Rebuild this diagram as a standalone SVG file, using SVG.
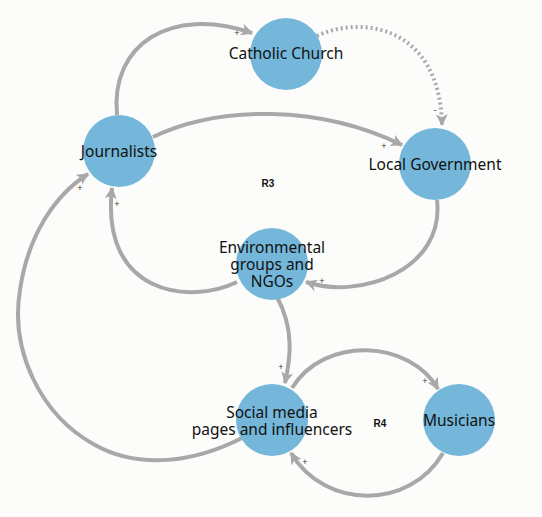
<svg xmlns="http://www.w3.org/2000/svg" width="542" height="517" viewBox="0 0 542 517">
<defs>
<style>
.node{fill:#74b7da}
.lbl{font-family:"Noto Sans","Liberation Sans",sans-serif;font-size:15.5px;fill:#111;text-anchor:middle}
.edge{fill:none;stroke:#a8a8a8;stroke-width:4;marker-end:url(#ah)}
.dot{stroke-dasharray:2 3}
.pol{font-family:"Liberation Sans",sans-serif;font-size:9px;fill:#333;text-anchor:middle}
.loop{font-family:"Liberation Sans",sans-serif;font-size:10px;font-weight:bold;fill:#111;text-anchor:middle}
</style>
<marker id="ah" markerUnits="userSpaceOnUse" markerWidth="12" markerHeight="12" viewBox="0 0 10 10" refX="9" refY="5" orient="auto">
<path d="M0,0 L10,5 L0,10 L2.5,5 z" fill="#a8a8a8"/>
</marker>
</defs>
<rect width="542" height="517" fill="#fcfcfb"/>
<g id="connectors">
<path class="edge" d="M117,115 C110,45 170,5 252,33"/>
<path class="edge dot" d="M317,36 C360,15 440,25 442,125"/>
<path class="edge" d="M153,137 C220,105 320,105 402,145"/>
<path class="edge" d="M437,200 C445,270 360,300 306,282"/>
<path class="edge" d="M237,282 C190,305 100,295 112,188"/>
<path class="edge" d="M277,297 C295,330 290,360 285,383"/>
<path class="edge" d="M292,388 C325,335 410,340 438,389"/>
<path class="edge" d="M443,453 C410,510 325,510 291,453"/>
<path class="edge" d="M242,438 C195,462 140,470 95,445 C40,415 10,350 20,290 C28,235 55,195 88,174"/>
</g>
<g class="pol">
<text x="237" y="36">+</text>
<text x="435" y="113">-</text>
<text x="384" y="149">+</text>
<text x="322" y="284">+</text>
<text x="117" y="207">+</text>
<text x="281" y="370">+</text>
<text x="425" y="384">+</text>
<text x="305" y="465">+</text>
<text x="80" y="191">+</text>
</g>
<text class="loop" x="268" y="187">R3</text>
<text class="loop" x="380" y="427">R4</text>
<g id="catholic"><circle class="node" cx="286" cy="54" r="36"/><text class="lbl" x="286" y="59">Catholic Church</text></g>
<g id="journalists"><circle class="node" cx="119" cy="151" r="36"/><text class="lbl" x="119" y="157">Journalists</text></g>
<g id="localgov"><circle class="node" cx="435" cy="164" r="36"/><text class="lbl" x="435" y="170">Local Government</text></g>
<g id="env"><circle class="node" cx="272" cy="264" r="36"/><text class="lbl" x="272" y="253">Environmental</text><text class="lbl" x="272" y="270">groups and</text><text class="lbl" x="272" y="287">NGOs</text></g>
<g id="social"><circle class="node" cx="272" cy="420" r="36"/><text class="lbl" x="272" y="418">Social media</text><text class="lbl" x="272" y="435">pages and influencers</text></g>
<g id="musicians"><circle class="node" cx="459" cy="420" r="36"/><text class="lbl" x="459" y="426">Musicians</text></g>
</svg>
